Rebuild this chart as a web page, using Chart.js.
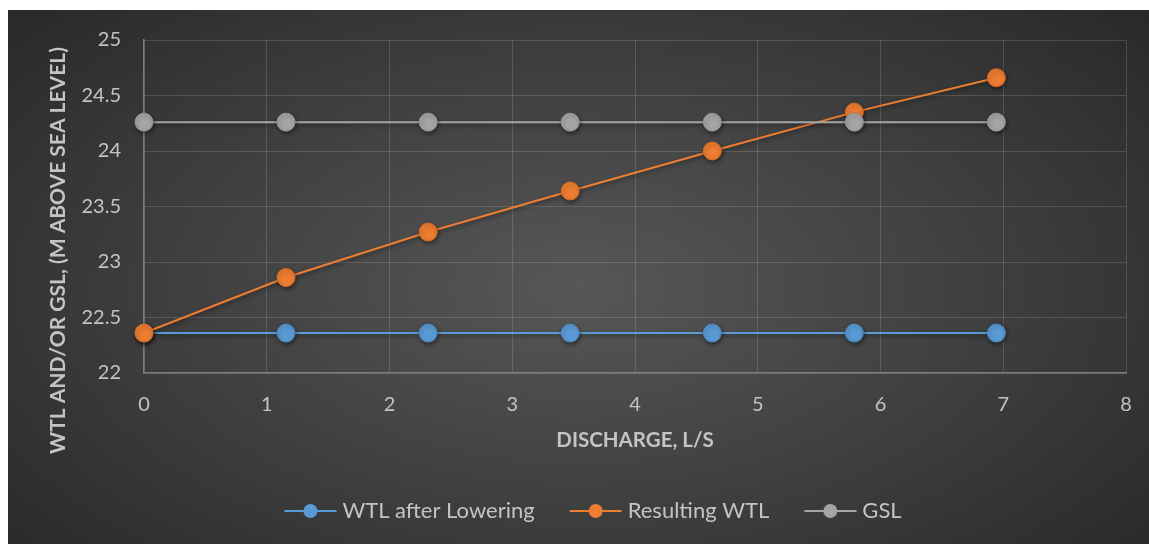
<!DOCTYPE html>
<html>
<head>
<meta charset="utf-8">
<script src="https://cdn.jsdelivr.net/npm/chart.js@4.4.1/dist/chart.umd.min.js"></script>
<style>
  html, body { margin: 0; padding: 0; background: #ffffff; }
  #wrap {
    position: absolute; left: 8px; top: 10px; width: 1141px; height: 534px;
    background: radial-gradient(ellipse 70% 80% at 50% 52%, #575757 0%, #3d3d3d 55%, #272727 100%);
  }
  canvas { display: block; }
</style>
</head>
<body>
<div id="wrap"><canvas id="chart" width="1141" height="534"></canvas></div>
<script>
// Discharge (L/s) and levels (m above sea level)
const discharge = [0, 1.157, 2.315, 3.472, 4.630, 5.787, 6.944];
const wtlAfterLowering = [22.36, 22.36, 22.36, 22.36, 22.36, 22.36, 22.36];
const resultingWtl = [22.36, 22.86, 23.27, 23.64, 24.00, 24.35, 24.66];
const gsl = [24.26, 24.26, 24.26, 24.26, 24.26, 24.26, 24.26];

const seriesNames = ['WTL after Lowering', 'Resulting WTL', 'GSL'];
const seriesColors = ['#5B9BD5', '#ED7D31', '#A5A5A5'];
const seriesBorders = ['#4a88c0', '#d96c22', '#959595'];

const xTitle = 'DISCHARGE, L/S';
const yTitle = 'WTL AND/OR GSL, (M ABOVE SEA LEVEL)';

const textColor = '#c4c4c4';
const gridColor = 'rgba(255,255,255,0.14)';
const axisColor = '#7c7c7c';
const fontFamily = 'Lato, "Open Sans", sans-serif';

function toPoints(ys) {
  return discharge.map((x, i) => ({ x: x, y: ys[i] }));
}

// Legend symbol: short line with a circle marker
function legendMarker(color) {
  const c = document.createElement('canvas');
  c.width = 58; c.height = 16;
  const g = c.getContext('2d');
  g.strokeStyle = color; g.lineWidth = 2;
  g.beginPath(); g.moveTo(5.5, 8); g.lineTo(57.5, 8); g.stroke();
  g.fillStyle = color;
  g.beginPath(); g.arc(31.5, 8, 7, 0, Math.PI * 2); g.fill();
  return c;
}
const markers = seriesColors.map(legendMarker);

function makeDataset(i, values, order) {
  return {
    label: seriesNames[i],
    data: toPoints(values),
    borderColor: seriesColors[i],
    backgroundColor: seriesColors[i],
    pointBackgroundColor: seriesColors[i],
    pointBorderColor: seriesBorders[i],
    pointBorderWidth: 1,
    pointRadius: 9,
    pointHoverRadius: 9,
    borderWidth: 2,
    tension: 0,
    clip: false,
    order: order
  };
}

// Soft drop shadow under lines and markers
const shadowPlugin = {
  id: 'markShadow',
  beforeDatasetsDraw(chart) {
    const ctx = chart.ctx;
    ctx.save();
    ctx.shadowColor = 'rgba(0,0,0,0.45)';
    ctx.shadowBlur = 4;
    ctx.shadowOffsetX = 1;
    ctx.shadowOffsetY = 2;
  },
  afterDatasetsDraw(chart) {
    chart.ctx.restore();
  }
};

// Vertical axis title, placed left of the tick labels
const yTitlePlugin = {
  id: 'yAxisTitle',
  afterDraw(chart) {
    const ctx = chart.ctx;
    const area = chart.chartArea;
    ctx.save();
    ctx.translate(area.left - 86, (area.top + area.bottom) / 2 + 44);
    ctx.rotate(-Math.PI / 2);
    ctx.font = 'bold 21px ' + fontFamily;
    ctx.fillStyle = textColor;
    ctx.textAlign = 'center';
    ctx.textBaseline = 'middle';
    ctx.fillText(yTitle, 0, 0);
    ctx.restore();
  }
};

// Nudge the legend row to the right
const legendShiftPlugin = {
  id: 'legendShift',
  afterLayout(chart) {
    const lg = chart.legend;
    if (lg) { lg.left += 26; lg.right += 26; }
  }
};

function build() {
  new Chart(document.getElementById('chart'), {
    type: 'line',
    data: {
      datasets: [
        makeDataset(0, wtlAfterLowering, 3),
        makeDataset(1, resultingWtl, 2),
        makeDataset(2, gsl, 1)
      ]
    },
    options: {
      responsive: false,
      animation: false,
      events: [],
      layout: { padding: { left: 0, top: 30, right: 23, bottom: 12 } },
      scales: {
        x: {
          type: 'linear',
          min: 0, max: 8,
          ticks: { stepSize: 1, color: textColor, padding: 3, font: { size: 20, family: fontFamily } },
          grid: { color: gridColor, drawTicks: true, tickLength: 17, tickColor: 'rgba(0,0,0,0)' },
          border: { color: axisColor, width: 1.5 },
          title: {
            display: true, text: xTitle, color: textColor,
            font: { size: 20.5, weight: 'bold', family: fontFamily },
            padding: { top: 0, bottom: 12 }
          },
          afterFit(scale) { scale.height = 92; }
        },
        y: {
          type: 'linear',
          min: 22, max: 25,
          ticks: {
            stepSize: 0.5, color: textColor, padding: 3,
            font: { size: 20, family: fontFamily },
            callback: (v) => String(v)
          },
          grid: { color: gridColor, drawTicks: true, tickLength: 20, tickColor: 'rgba(0,0,0,0)' },
          border: { color: axisColor, width: 1.5 },
          afterFit(scale) { scale.width = 136; }
        }
      },
      plugins: {
        tooltip: { enabled: false },
        legend: {
          display: true,
          position: 'bottom',
          labels: {
            usePointStyle: true,
            pointStyleWidth: 47,
            boxHeight: 16,
            padding: 35,
            color: textColor,
            font: { size: 22, family: fontFamily },
            sort: (a, b) => a.datasetIndex - b.datasetIndex,
            generateLabels(chart) {
              const items = Chart.defaults.plugins.legend.labels.generateLabels(chart);
              items.forEach(it => { it.pointStyle = markers[it.datasetIndex]; });
              return items;
            }
          }
        }
      }
    },
    plugins: [shadowPlugin, yTitlePlugin, legendShiftPlugin]
  });
}

if (document.fonts && document.fonts.load) {
  Promise.all([
    document.fonts.load('20px Lato'),
    document.fonts.load('bold 20px Lato')
  ]).then(build, build);
} else {
  build();
}
</script>
</body>
</html>
